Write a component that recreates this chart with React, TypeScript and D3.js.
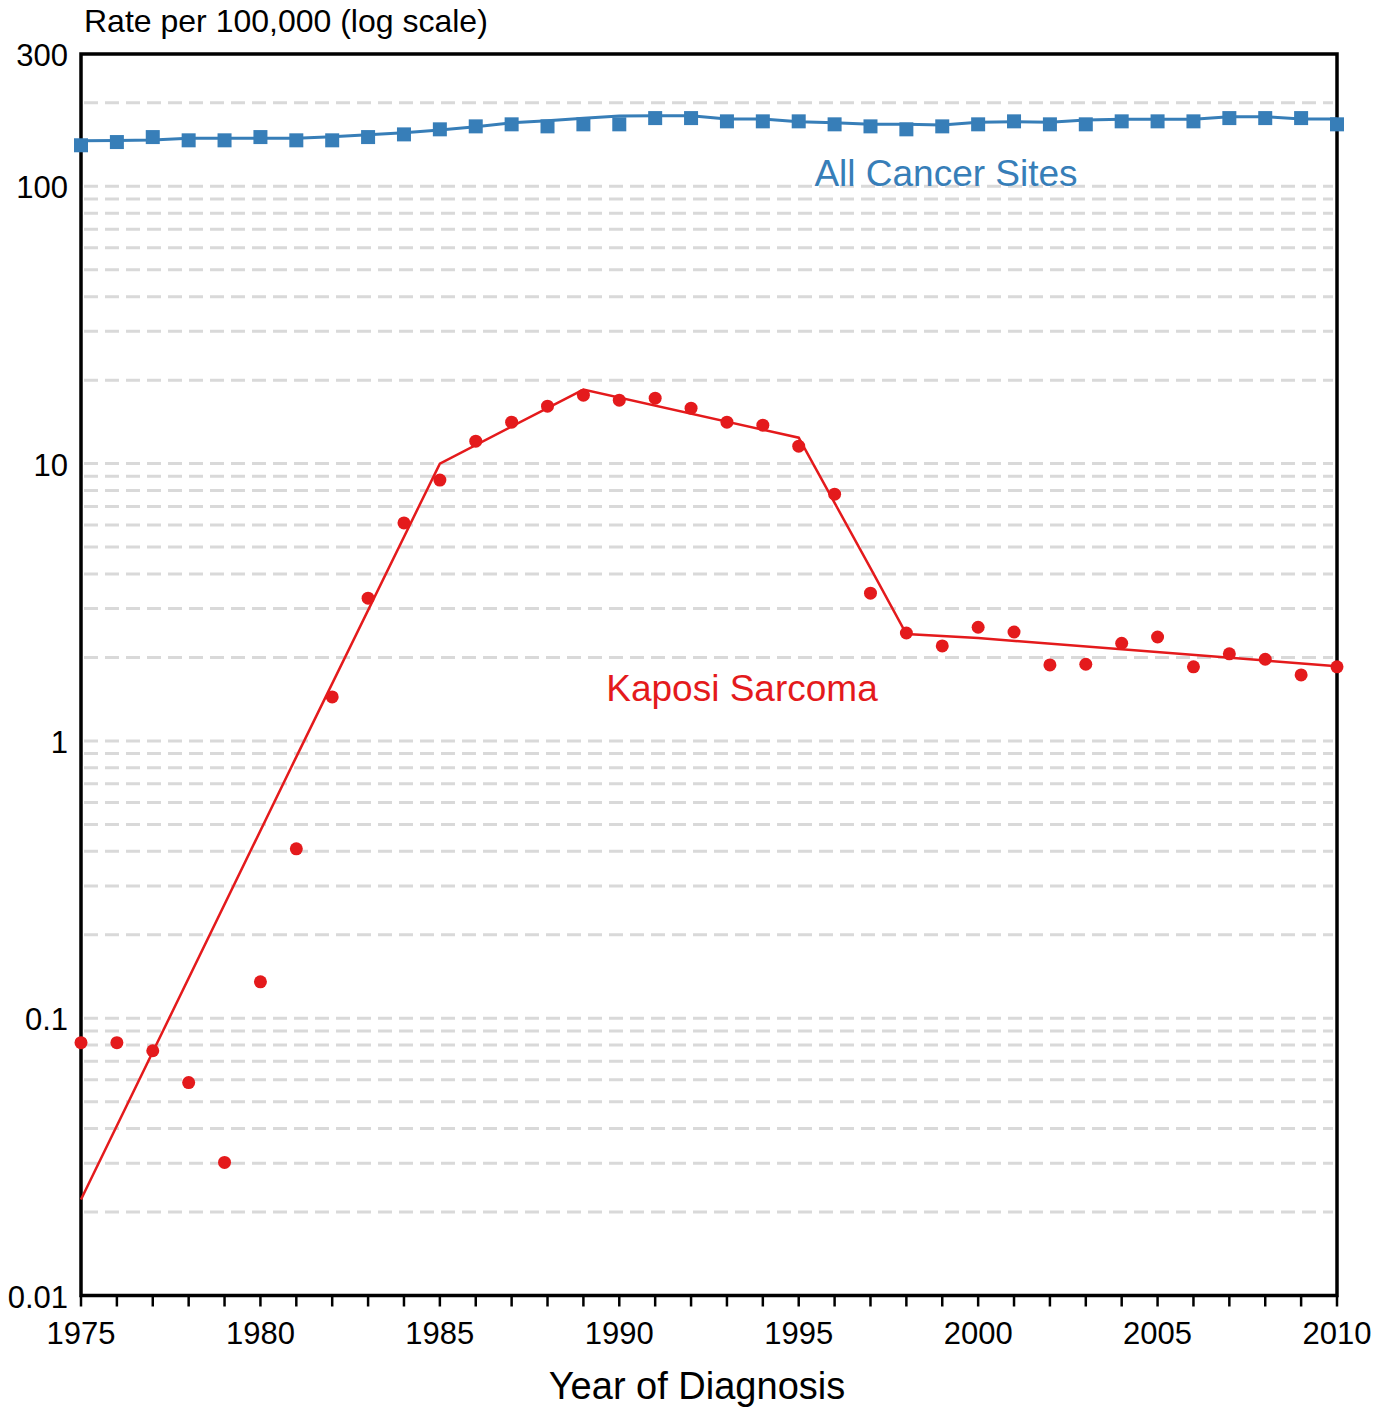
import React from 'react';
import * as d3 from 'd3';

const width = 1388;
const height = 1407;
const margin = {top: 54, right: 51, bottom: 111.5, left: 81};
const blue = '#377eb8';
const red = '#e41a1c';
const font = '"Liberation Sans", Arial, sans-serif';

const years = d3.range(1975, 2011);

// observed rates, all cancer sites
const allSitesRate = [
  140.6, 144.4, 150.5, 146.5, 146.5, 150.5, 146.5, 146.5, 150.5, 153.9,
  160.5, 164.5, 167.3, 164.5, 167.3, 167.3, 176.2, 176.2, 171.5, 171.5,
  171.5, 167.3, 164.5, 160.5, 164.5, 167.3, 171.5, 167.3, 167.3, 171.5,
  171.5, 171.5, 176.2, 176.2, 176.2, 167.3,
];

// fitted trend, all cancer sites
const allSitesFit = [
  146.0, 146.4, 146.9, 149.0, 149.0, 149.0, 149.0, 151.0, 153.5, 156.1,
  159.6, 164.0, 169.5, 172.4, 175.9, 179.3, 179.8, 179.8, 174.9, 174.9,
  171.0, 169.5, 167.3, 167.3, 166.4, 170.2, 171.0, 170.2, 173.5, 174.5,
  174.5, 174.5, 178.2, 178.2, 174.9, 174.9,
];

// observed rates, Kaposi sarcoma
const kaposiRate = [
  0.0816, 0.0816, 0.0763, 0.0586, 0.0302, 0.1353, 0.408, 1.441, 3.27, 6.11,
  8.72, 12.05, 14.11, 16.11, 17.65, 16.93, 17.22, 15.85, 14.11, 13.76,
  11.56, 7.76, 3.41, 2.45, 2.20, 2.57, 2.47, 1.88, 1.89, 2.25,
  2.37, 1.85, 2.06, 1.97, 1.73, 1.85,
];

// joinpoint fit, Kaposi sarcoma
const kaposiFitYears = [1975, 1981, 1985, 1989, 1995, 1997, 1998, 2000, 2010];
const kaposiFit = [0.0222, 0.876, 10.0, 18.5, 12.4, 4.2, 2.43, 2.35, 1.86];

const yTicks = [300, 100, 10, 1, 0.1, 0.01];
const yTickLabels = ['300', '100', '10', '1', '0.1', '0.01'];
const xTicks = [1975, 1980, 1985, 1990, 1995, 2000, 2005, 2010];

const App: React.FC = () => {
  const xScale = d3.scaleLinear()
    .domain([1975, 2010])
    .range([margin.left, width - margin.right]);

  const yScale = d3.scaleLog()
    .domain([0.01, 300])
    .range([height - margin.bottom, margin.top]);

  const line = d3.line<[number, number]>()
    .x(d => xScale(d[0]))
    .y(d => yScale(d[1]));

  const allFitPath = line(years.map((y, i) => [y, allSitesFit[i]])) || '';
  const kapFitPath = line(kaposiFitYears.map((y, i) => [y, kaposiFit[i]])) || '';

  // minor grid values 1..9 x 10^k inside the domain
  const gridValues: number[] = [];
  [0.01, 0.1, 1, 10, 100].forEach(base => {
    for (let m = 1; m <= 9; m++) {
      const v = base * m;
      if (v > 0.01 && v < 300) gridValues.push(v);
    }
  });

  const x0 = xScale(1975);
  const x1 = xScale(2010);
  const yTop = yScale(300);
  const yBot = yScale(0.01);

  return (
    <svg width={width} height={height} style={{position: 'absolute', left: 0, top: 0}}
      fontFamily={font}>
      <rect width={width} height={height} fill='#fff' />

      <g>
        {gridValues.map(v => (
          <line key={v} x1={x0 + 3} x2={x1 - 4} y1={yScale(v)} y2={yScale(v)}
            stroke='#d9d9d9' strokeWidth={3} strokeDasharray='14,7' />
        ))}
      </g>

      <rect x={x0} y={yTop} width={x1 - x0} height={yBot - yTop}
        fill='none' stroke='#000' strokeWidth={3.5} />

      <g>
        {years.map(y => (
          <line key={y} x1={xScale(y)} x2={xScale(y)} y1={yBot} y2={yBot + 11}
            stroke='#000' strokeWidth={2.5} />
        ))}
        {xTicks.map(t => (
          <text key={t} x={xScale(t)} y={1344} fontSize={31} textAnchor='middle' fill='#000'>
            {t}
          </text>
        ))}
      </g>

      <g>
        {yTicks.map((t, i) => (
          <text key={t} x={68} y={yScale(t) + 12} fontSize={31} textAnchor='end' fill='#000'>
            {yTickLabels[i]}
          </text>
        ))}
      </g>

      <text x={84} y={32} fontSize={32} fill='#000'>Rate per 100,000 (log scale)</text>
      <text x={697} y={1399} fontSize={38} textAnchor='middle' fill='#000'>Year of Diagnosis</text>

      <path d={allFitPath} fill='none' stroke={blue} strokeWidth={3} />
      {years.map((y, i) => (
        <rect key={y} x={xScale(y) - 7} y={yScale(allSitesRate[i]) - 7} width={14} height={14} fill={blue} />
      ))}

      <path d={kapFitPath} fill='none' stroke={red} strokeWidth={2.5} />
      {years.map((y, i) => (
        <circle key={y} cx={xScale(y)} cy={yScale(kaposiRate[i])} r={6.5} fill={red} />
      ))}

      <text x={946} y={186} fontSize={37} textAnchor='middle' fill={blue}>All Cancer Sites</text>
      <text x={742} y={701} fontSize={37} textAnchor='middle' fill={red}>Kaposi Sarcoma</text>
    </svg>
  );
};

export default App;
